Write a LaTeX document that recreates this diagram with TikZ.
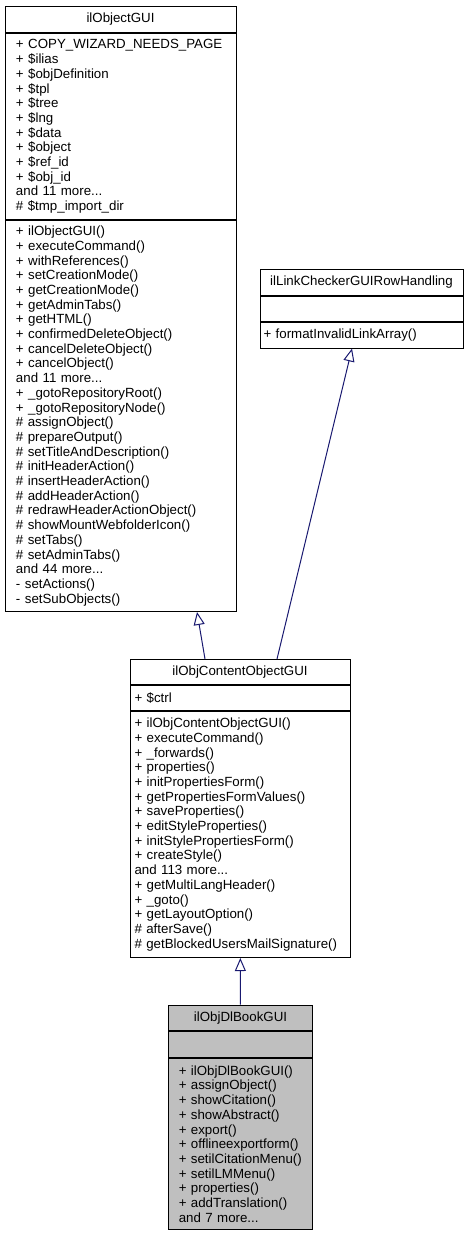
\documentclass[tikz,border=0pt]{standalone}
\usepackage{fontspec}
\newfontfamily\umlfont{Liberation Sans}
\usetikzlibrary{positioning, arrows.meta}
\definecolor{edgeblue}{HTML}{191970}
\definecolor{current}{HTML}{BFBFBF}
\newcommand{\umlsize}{\fontsize{13.3}{14.7}\selectfont}
\tikzstyle{classname} = [rectangle, anchor=north, text centered, draw=black, line width=1pt, fill=white, font=\umlfont\umlsize, inner sep=0pt, text height=9.5pt, text depth=2.8pt]
\tikzstyle{members} = [rectangle, anchor=north, align=left, draw=black, line width=1pt, fill=white, font=\umlfont\umlsize, inner ysep=0pt]
\tikzstyle{inherit} = [line width=1pt, edgeblue, -{Triangle[open, length=13pt, width=11pt]}]

\begin{document}
\begin{tikzpicture}[x=1pt, y=-1pt]
\useasboundingbox (0,0) rectangle (469,1233);

% ilObjectGUI
\node (objName) [classname, minimum width=231pt, minimum height=26pt] at (120.5,6) {ilObjectGUI};
\node (objAttr) [members, text width=209pt, inner xsep=11pt, minimum height=186pt, below=0pt of objName] {+ COPY\_WIZARD\_NEEDS\_PAGE\\+ \$ilias\\+ \$objDefinition\\+ \$tpl\\+ \$tree\\+ \$lng\\+ \$data\\+ \$object\\+ \$ref\_id\\+ \$obj\_id\\and 11 more...\\\# \$tmp\_import\_dir};
\node (objMeth) [members, text width=209pt, inner xsep=11pt, minimum height=391pt, below=0pt of objAttr] {+ ilObjectGUI()\\+ executeCommand()\\+ withReferences()\\+ setCreationMode()\\+ getCreationMode()\\+ getAdminTabs()\\+ getHTML()\\+ confirmedDeleteObject()\\+ cancelDeleteObject()\\+ cancelObject()\\and 11 more...\\+ \_gotoRepositoryRoot()\\+ \_gotoRepositoryNode()\\\# assignObject()\\\# prepareOutput()\\\# setTitleAndDescription()\\\# initHeaderAction()\\\# insertHeaderAction()\\\# addHeaderAction()\\\# redrawHeaderActionObject()\\\# showMountWebfolderIcon()\\\# setTabs()\\\# setAdminTabs()\\and 44 more...\\- setActions()\\- setSubObjects()};

% ilLinkCheckerGUIRowHandling
\node (linkName) [classname, minimum width=203pt, minimum height=25.5pt] at (361.5,269) {ilLinkCheckerGUIRowHandling};
\node (linkAttr) [members, text width=196pt, inner xsep=3.5pt, minimum height=25.5pt, below=0pt of linkName] {};
\node (linkMeth) [members, text width=196pt, inner xsep=3.5pt, minimum height=25.5pt, below=0pt of linkAttr] {+ formatInvalidLinkArray()};

% ilObjContentObjectGUI
\node (cobjName) [classname, minimum width=220pt, minimum height=25pt] at (240,659) {ilObjContentObjectGUI};
\node (cobjAttr) [members, text width=211pt, inner xsep=4.5pt, minimum height=25pt, below=0pt of cobjName] {+ \$ctrl};
\node (cobjMeth) [members, text width=211pt, inner xsep=4.5pt, minimum height=246pt, below=0pt of cobjAttr] {+ ilObjContentObjectGUI()\\+ executeCommand()\\+ \_forwards()\\+ properties()\\+ initPropertiesForm()\\+ getPropertiesFormValues()\\+ saveProperties()\\+ editStyleProperties()\\+ initStylePropertiesForm()\\+ createStyle()\\and 113 more...\\+ getMultiLangHeader()\\+ \_goto()\\+ getLayoutOption()\\\# afterSave()\\\# getBlockedUsersMailSignature()};

% ilObjDlBookGUI
\node (bookName) [classname, fill=current, minimum width=143.5pt, minimum height=25.5pt] at (240.5,1004.5) {ilObjDlBookGUI};
\node (bookAttr) [members, fill=current, text width=123.5pt, inner xsep=10pt, minimum height=26pt, below=0pt of bookName] {};
\node (bookMeth) [members, fill=current, text width=123.5pt, inner xsep=10pt, minimum height=171pt, below=0pt of bookAttr] {+ ilObjDlBookGUI()\\+ assignObject()\\+ showCitation()\\+ showAbstract()\\+ export()\\+ offlineexportform()\\+ setilCitationMenu()\\+ setilLMMenu()\\+ properties()\\+ addTranslation()\\and 7 more...};

\draw [inherit] ([xshift=-35pt]cobjName.north) -- ([xshift=76.5pt]objMeth.south);
\draw [inherit] ([xshift=37pt]cobjName.north) -- ([xshift=-9.5pt]linkMeth.south);
\draw [inherit] (bookName) -- (cobjMeth);

\end{tikzpicture}
\end{document}
